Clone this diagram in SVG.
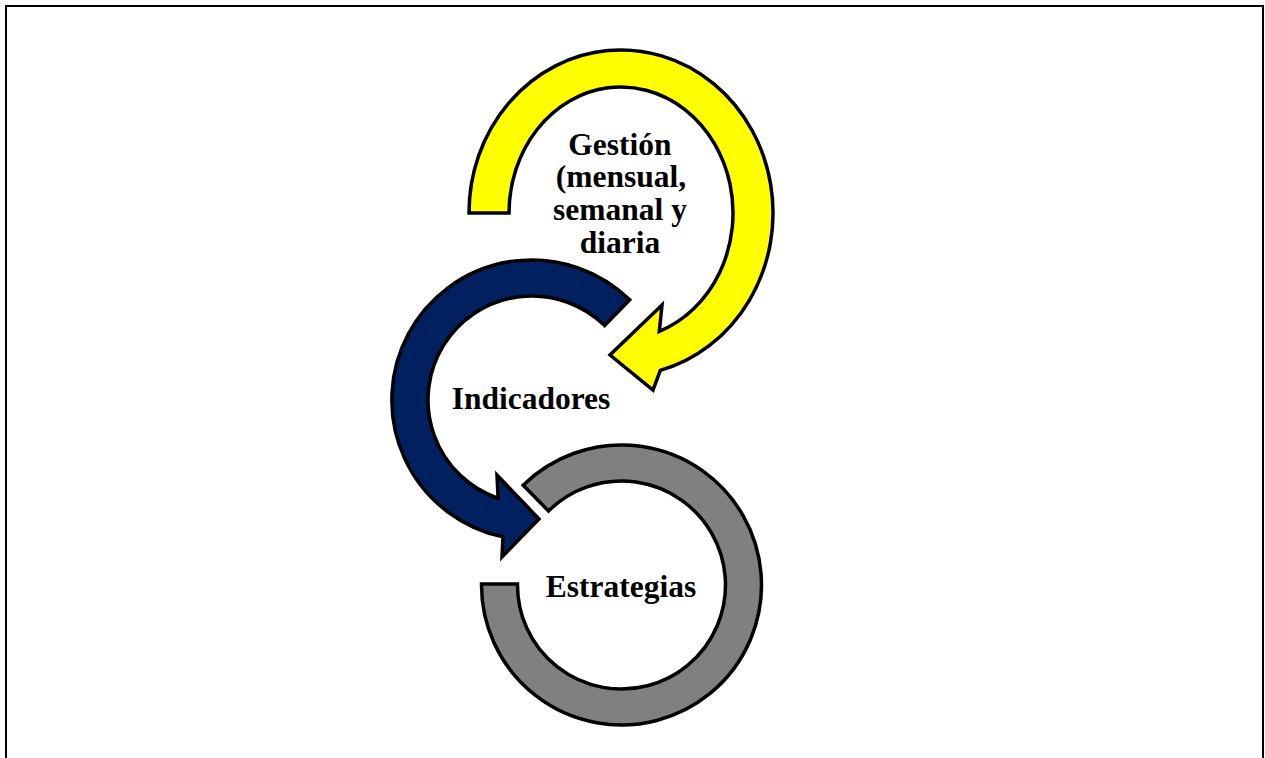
<svg xmlns="http://www.w3.org/2000/svg" width="1265" height="758" viewBox="0 0 1265 758">
<style>
.arr{stroke:#000;stroke-width:3.5;stroke-linejoin:miter}
.y{fill:#FFFF00}
.n{fill:#002060}
.g{fill:#808080}
.t{font-family:"Liberation Serif","Times New Roman",serif;font-weight:bold;font-size:31.5px;fill:#000;text-anchor:middle}
</style>
<rect x="6" y="6" width="1257" height="760" fill="#fff" stroke="#000" stroke-width="2"/>
<g id="connectors">
<path id="arrow-gestion" class="arr y" d="M469,213 A152,163 0 1 1 660.3,370.4 L653,390 L610,355 L662,305 L659.3,331.4 A112,126 0 1 0 509,213 Z"/>
<path id="arrow-indicadores" class="arr n" d="M629.7,299.8 A140,140 0 1 0 502.9,536.9 L502,557 L539,519 L497,475 L498.1,498.3 A104,104 0 1 1 604.6,325.5 Z"/>
<path id="arrow-estrategias" class="arr g" d="M523.2,485.3 A140,140 0 1 1 481.5,584 L517.5,584 A104,104 0 1 0 548.5,511 Z"/>
</g>
<g id="node-gestion">
<text class="t" x="620" y="155">Gestión</text>
<text class="t" x="621" y="187">(mensual,</text>
<text class="t" x="620" y="220">semanal y</text>
<text class="t" x="620" y="253">diaria</text>
</g>
<g id="node-indicadores">
<text class="t" x="531" y="409">Indicadores</text>
</g>
<g id="node-estrategias">
<text class="t" x="621" y="597">Estrategias</text>
</g>
</svg>
